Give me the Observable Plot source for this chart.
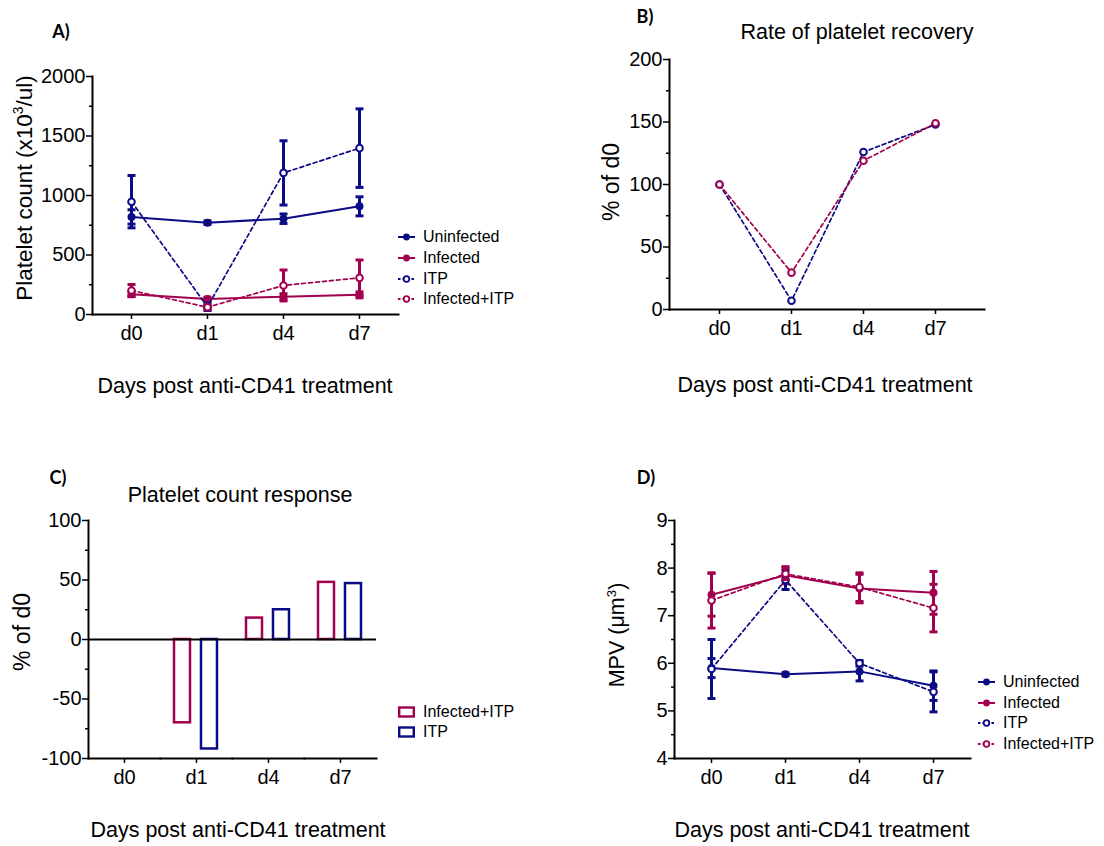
<!DOCTYPE html>
<html><head><meta charset="utf-8">
<script src="https://cdn.jsdelivr.net/npm/d3@7"></script>
<script src="https://cdn.jsdelivr.net/npm/@observablehq/plot@0.6"></script>
<style>
body{margin:0;background:#fff;}
#root{position:relative;width:1104px;height:846px;font-family:'Liberation Sans',Arial,sans-serif;color:#000;overflow:hidden;background:#fff}
.panel{position:absolute;}
.t{position:absolute;white-space:nowrap;transform:translate(-50%,-50%);line-height:1;font-size:21.5px;}
.rot{transform:translate(-50%,-50%) rotate(-90deg);}
.lab{font-family:Lato,'Liberation Sans',sans-serif;font-weight:bold;font-size:18px;}
.leg{position:absolute;display:flex;align-items:center;font-size:16px;line-height:1;white-space:nowrap;height:18px}
.leg svg{margin-right:8px;overflow:visible}
sup{font-size:0.62em;line-height:0;vertical-align:0.6em}
</style></head><body><div id="root"></div>
<script>
// ---------- data ----------
const days = ["d0", "d1", "d4", "d7"];
const seriesNames = ["Uninfected", "Infected", "ITP", "Infected+ITP"];
const barGroups = ["Infected+ITP", "ITP"];

// A) Platelet count (x10^3/ul), mean and error
const countUninfected = [820, 772, 805, 909];
const countUninfectedErr = [60, 15, 40, 80];
const countInfected = [170, 131, 150, 165];
const countInfectedErr = [20, 15, 25, 25];
const countITP = [948, 64, 1190, 1398];
const countITPErr = [220, 30, 270, 330];
const countInfITP = [202, 61, 244, 308];
const countInfITPErr = [50, 20, 130, 150];

// B) Rate of platelet recovery (% of d0)
const recoveryITP = [100, 7, 126, 148];
const recoveryInfITP = [100, 29.5, 119, 149];

// C) Platelet count response (% of d0)
const responseInfITP = [0, -70, 18, 48];
const responseITP = [0, -92, 25, 47];

// D) MPV (um^3)
const mpvUninfected = [5.9, 5.77, 5.83, 5.53];
const mpvUninfectedErr = [0.2, 0.03, 0.2, 0.31];
const mpvInfected = [7.44, 7.85, 7.57, 7.48];
const mpvInfectedErr = [0.45, 0.18, 0.3, 0.45];
const mpvITP = [5.88, 7.75, 6.0, 5.4];
const mpvITPErr = [0.62, 0.2, 0.06, 0.42];
const mpvInfITP = [7.32, 7.88, 7.6, 7.16];
const mpvInfITPErr = [0.58, 0.12, 0.3, 0.5];

// tick values
const yTicksA = [0, 500, 1000, 1500, 2000];
const yMinorA = [250, 750, 1250, 1750];
const yTicksB = [0, 50, 100, 150, 200];
const yMinorB = [25, 75, 125, 175];
const yTicksC = [-100, -50, 0, 50, 100];
const yMinorC = [-75, -25, 25, 75];
const yTicksD = [4, 5, 6, 7, 8, 9];
const yMinorD = [4.5, 5.5, 6.5, 7.5, 8.5];

// ---------- style ----------
const blue = "#0b0b86", mag = "#a1004f";
const font = "'Liberation Sans',Arial,sans-serif";
const svgStyle = {fontSize: "20px", fontFamily: font, color: "#000", overflow: "visible", background: "transparent"};
const capSymbol = {draw(ctx) { ctx.moveTo(-4, 0); ctx.lineTo(4, 0); }};

function lineSeries(vals, errs, color, dashed, open) {
  const rows = days.map((day, i) => ({day, v: vals[i], e: errs ? errs[i] : 0}));
  const marks = [Plot.line(rows, {x: "day", y: "v", stroke: color, strokeWidth: dashed ? 1.7 : 2, strokeDasharray: dashed ? "4,3" : undefined})];
  if (errs) {
    marks.push(Plot.ruleX(rows, {x: "day", y1: d => d.v - d.e, y2: d => d.v + d.e, stroke: color, strokeWidth: 3}));
    marks.push(Plot.dot(rows, {x: "day", y: d => d.v + d.e, symbol: capSymbol, r: 4, fill: "none", stroke: color, strokeWidth: 3}));
    marks.push(Plot.dot(rows, {x: "day", y: d => d.v - d.e, symbol: capSymbol, r: 4, fill: "none", stroke: color, strokeWidth: 3}));
  }
  marks.push(Plot.dot(rows, {x: "day", y: "v", r: open ? 3.3 : 4, stroke: color, strokeWidth: open ? 2 : 0, fill: open ? "white" : color}));
  return marks;
}
function yAxes(ticks, minor) {
  return [
    Plot.axisY({ticks, tickFormat: d => String(d), tickSize: 6, tickPadding: 1, strokeWidth: 1.5, label: null}),
    Plot.axisY({ticks: minor, tickFormat: () => "", tickSize: 3, strokeWidth: 1.5, label: null})
  ];
}
const xAxis = () => Plot.axisX({tickSize: 5, tickPadding: 6, strokeWidth: 1.5, label: null});

// ---------- panels ----------
const plotA = Plot.plot({
  width: 552, height: 423, marginLeft: 92, marginRight: 154, marginTop: 76, marginBottom: 109,
  style: svgStyle,
  x: {type: "point", domain: days, padding: 0.5},
  y: {domain: [0, 2000]},
  marks: [
    ...yAxes(yTicksA, yMinorA), xAxis(),
    ...lineSeries(countUninfected, countUninfectedErr, blue, false, false),
    ...lineSeries(countInfected, countInfectedErr, mag, false, false),
    ...lineSeries(countITP, countITPErr, blue, true, true),
    ...lineSeries(countInfITP, countInfITPErr, mag, true, true),
    Plot.frame({anchor: "left", strokeWidth: 2}),
    Plot.frame({anchor: "bottom", strokeWidth: 2})
  ]
});

const plotB = Plot.plot({
  width: 552, height: 423, marginLeft: 117, marginRight: 120, marginTop: 59, marginBottom: 114,
  style: svgStyle,
  x: {type: "point", domain: days, padding: 0.677},
  y: {domain: [0, 200]},
  marks: [
    ...yAxes(yTicksB, yMinorB), xAxis(),
    ...lineSeries(recoveryITP, null, blue, true, true),
    ...lineSeries(recoveryInfITP, null, mag, true, true),
    Plot.frame({anchor: "left", strokeWidth: 2}),
    Plot.frame({anchor: "bottom", strokeWidth: 2})
  ]
});

const barRows = [];
days.forEach((day, i) => {
  if (responseInfITP[i] !== 0) barRows.push({day, group: "Infected+ITP", v: responseInfITP[i]});
  if (responseITP[i] !== 0) barRows.push({day, group: "ITP", v: responseITP[i]});
});
const zeroRows = days.map(day => ({day}));
const plotC = Plot.plot({
  width: 552, height: 423, marginLeft: 87, marginRight: 175, marginTop: 97, marginBottom: 88,
  style: svgStyle,
  fx: {domain: days, padding: 0, label: null},
  x: {domain: barGroups, paddingInner: 0.39, paddingOuter: 0.49, axis: null},
  y: {domain: [-100, 100]},
  color: {domain: barGroups, range: [mag, blue]},
  marks: [
    ...yAxes(yTicksC, yMinorC),
    Plot.axisFx({anchor: "bottom", tickSize: 5, tickPadding: 6, strokeWidth: 1.5, label: null}),
    Plot.barY(barRows, {fx: "day", x: "group", y: "v", stroke: "group", fill: "white", strokeWidth: 2.5}),
    Plot.ruleY(zeroRows, {fx: "day", y: () => 0, stroke: "black", strokeWidth: 2}),
    Plot.frame({anchor: "left", strokeWidth: 2, facetAnchor: "left"}),
    Plot.frame({anchor: "bottom", strokeWidth: 2})
  ]
});

const plotD = Plot.plot({
  width: 552, height: 423, marginLeft: 122, marginRight: 134, marginTop: 97, marginBottom: 88,
  style: svgStyle,
  x: {type: "point", domain: days, padding: 0.5},
  y: {domain: [4, 9]},
  marks: [
    ...yAxes(yTicksD, yMinorD), xAxis(),
    ...lineSeries(mpvUninfected, mpvUninfectedErr, blue, false, false),
    ...lineSeries(mpvInfected, mpvInfectedErr, mag, false, false),
    ...lineSeries(mpvITP, mpvITPErr, blue, true, true),
    ...lineSeries(mpvInfITP, mpvInfITPErr, mag, true, true),
    Plot.frame({anchor: "left", strokeWidth: 2}),
    Plot.frame({anchor: "bottom", strokeWidth: 2})
  ]
});

// ---------- layout ----------
const root = document.getElementById("root");
function place(node, left, top) {
  const d = document.createElement("div"); d.className = "panel";
  d.style.left = left + "px"; d.style.top = top + "px";
  d.appendChild(node); root.appendChild(d);
}
place(plotA, 0, 0); place(plotB, 552, 0); place(plotC, 0, 423); place(plotD, 552, 423);

function text(html, x, y, cls = "", size) {
  const d = document.createElement("div"); d.className = "t " + cls;
  d.style.left = x + "px"; d.style.top = y + "px";
  if (size) d.style.fontSize = size + "px";
  d.innerHTML = html; root.appendChild(d);
}
text("A)", 61, 31, "lab"); text("B)", 645, 16, "lab"); text("C)", 58, 477, "lab"); text("D)", 646, 477, "lab");
text("Rate of platelet recovery", 857, 33);
text("Platelet count response", 240, 496);
const xLabel = "Days post anti-CD41 treatment";
text(xLabel, 245, 387); text(xLabel, 825, 386); text(xLabel, 238, 831); text(xLabel, 822, 831);
text("Platelet count (x10<sup>3</sup>/ul)", 25, 188, "rot", 22.5);
text("% of d0", 611, 182, "rot", 23);
text("% of d0", 22, 632, "rot", 23);
text("MPV (μm<sup>3</sup>)", 618, 635, "rot");

// legends
const legendStyle = {
  "Uninfected": {color: blue, dashed: false, open: false},
  "Infected": {color: mag, dashed: false, open: false},
  "ITP": {color: blue, dashed: true, open: true},
  "Infected+ITP": {color: mag, dashed: true, open: true}
};
const NS = "http://www.w3.org/2000/svg";
function legendRow(x, yc, name, box) {
  const s = legendStyle[name];
  const row = document.createElement("div"); row.className = "leg";
  row.style.left = x + "px"; row.style.top = (yc - 9) + "px";
  const svg = document.createElementNS(NS, "svg");
  svg.setAttribute("width", 17); svg.setAttribute("height", 18);
  if (box) {
    const r = document.createElementNS(NS, "rect");
    r.setAttribute("x", 1.2); r.setAttribute("y", 4.5); r.setAttribute("width", 14.6); r.setAttribute("height", 9);
    r.setAttribute("fill", "white"); r.setAttribute("stroke", s.color); r.setAttribute("stroke-width", 2.4);
    svg.appendChild(r);
  } else {
    const l = document.createElementNS(NS, "line");
    l.setAttribute("x1", 0); l.setAttribute("x2", 17); l.setAttribute("y1", 9); l.setAttribute("y2", 9);
    l.setAttribute("stroke", s.color); l.setAttribute("stroke-width", 2);
    if (s.dashed) l.setAttribute("stroke-dasharray", "2.5,2");
    svg.appendChild(l);
    const c = document.createElementNS(NS, "circle");
    c.setAttribute("cx", 8.5); c.setAttribute("cy", 9); c.setAttribute("r", s.open ? 2.8 : 3.4);
    c.setAttribute("fill", s.open ? "white" : s.color); c.setAttribute("stroke", s.color); c.setAttribute("stroke-width", s.open ? 1.8 : 0);
    svg.appendChild(c);
  }
  row.appendChild(svg);
  const span = document.createElement("span"); span.textContent = name; row.appendChild(span);
  root.appendChild(row);
}
const rowsA = [237, 257.5, 278.5, 299];
seriesNames.forEach((n, i) => legendRow(398, rowsA[i], n, false));
const rowsD = [682, 703, 723, 744];
seriesNames.forEach((n, i) => legendRow(978, rowsD[i], n, false));
const rowsC = [712, 732];
barGroups.forEach((n, i) => legendRow(398, rowsC[i], n, true));
</script>
</body></html>
